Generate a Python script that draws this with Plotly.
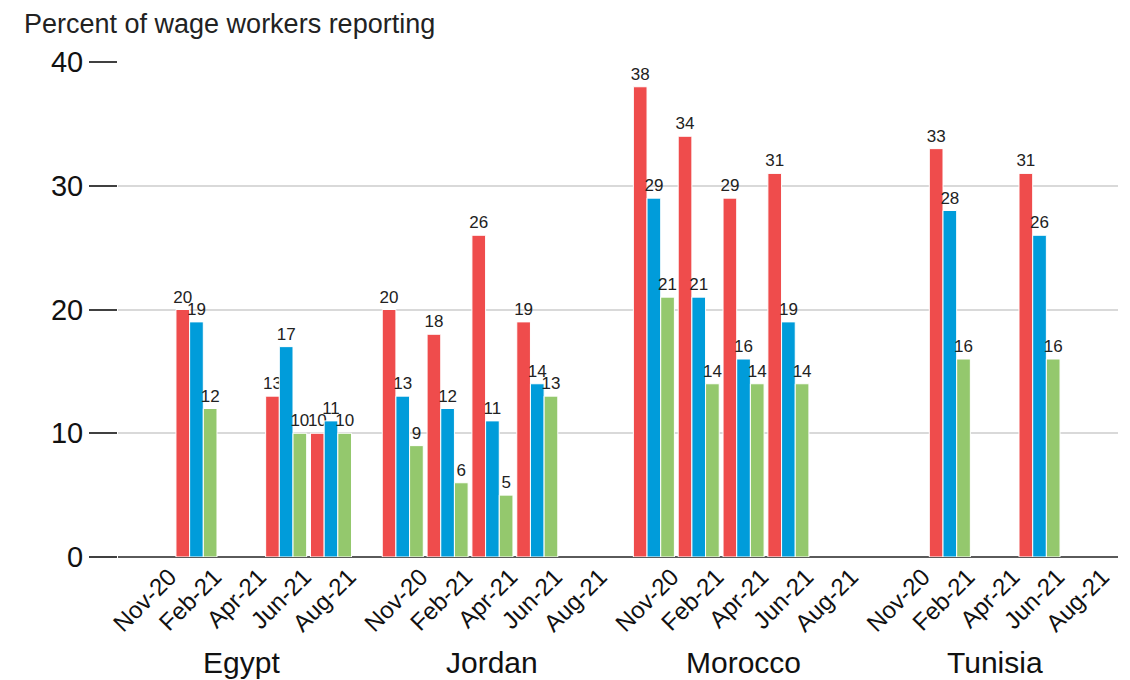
import plotly.graph_objects as go

countries = ["Egypt", "Jordan", "Morocco", "Tunisia"]
months = ["Nov-20", "Feb-21", "Apr-21", "Jun-21", "Aug-21"]

# one value per (country, month), None where no survey round
red_vals = [None, 20, None, 13, 10,
            20, 18, 26, 19, None,
            38, 34, 29, 31, None,
            None, 33, None, 31, None]
blue_vals = [None, 19, None, 17, 11,
             13, 12, 11, 14, None,
             29, 21, 16, 19, None,
             None, 28, None, 26, None]
green_vals = [None, 12, None, 10, 10,
              9, 6, 5, 13, None,
              21, 14, 14, 14, None,
              None, 16, None, 16, None]

series = [("Series 1", red_vals, "#EF4C4C"),
          ("Series 2", blue_vals, "#009CDA"),
          ("Series 3", green_vals, "#94C86D")]

stride = 5.6  # slots per country incl. gap
xpos = [ci * stride + mi for ci in range(len(countries)) for mi in range(len(months))]
xlabels = months * len(countries)

# page has an 8px body margin, so the figure is a bit smaller than the window
W, H = 1122, 672
ml, mr, mt, mb = 110, 12, 54, 123
ph = H - mt - mb
pw = W - ml - mr

fig = go.Figure()
for name, vals, col in series:
    fig.add_trace(go.Bar(
        x=xpos, y=vals, name=name,
        marker=dict(color=col, line=dict(color="white", width=1)),
        text=["" if v is None else str(v) for v in vals],
        textposition="outside", constraintext="none", cliponaxis=False,
        textfont=dict(family="Liberation Sans Narrow, Liberation Sans", size=17, color="#222222"),
    ))

for ci, c in enumerate(countries):
    fig.add_annotation(x=ci * stride + 2, y=-(654 - 549) / ph, xref="x", yref="paper",
                       text=c, showarrow=False, yanchor="middle",
                       font=dict(family="Liberation Sans, Arial", size=30, color="#111111"))

fig.add_annotation(x=(14 - ml) / pw, y=(549 - 16) / ph, xref="paper", yref="paper",
                   text="Percent of wage workers reporting",
                   showarrow=False, xanchor="left", yanchor="middle",
                   font=dict(family="Liberation Sans", size=27, color="#222222"))

fig.update_layout(
    width=W, height=H,
    margin=dict(l=ml, r=mr, t=mt, b=mb),
    barmode="group", bargap=0.085, bargroupgap=0,
    plot_bgcolor="white", paper_bgcolor="white",
    showlegend=False,
    font=dict(family="Liberation Sans, Arial", color="#111111"),
)
fig.update_xaxes(
    range=[-0.75, 3 * stride + 4.75],
    tickvals=[x + 0.4 for x in xpos], ticktext=xlabels,
    tickangle=-45, tickfont=dict(size=24),
    showgrid=False, zeroline=False, showline=False, ticks="",
)
fig.update_yaxes(
    range=[0, 40], tickvals=[0, 10, 20, 30, 40],
    ticks="outside", ticklen=28, tickwidth=2, tickcolor="#404040",
    tickfont=dict(size=29),
    showgrid=True, gridcolor="#D9D9D9", gridwidth=1.5,
    zeroline=True, zerolinecolor="#5A5A5A", zerolinewidth=2,
    showline=False,
)

fig.write_html("out.html")
